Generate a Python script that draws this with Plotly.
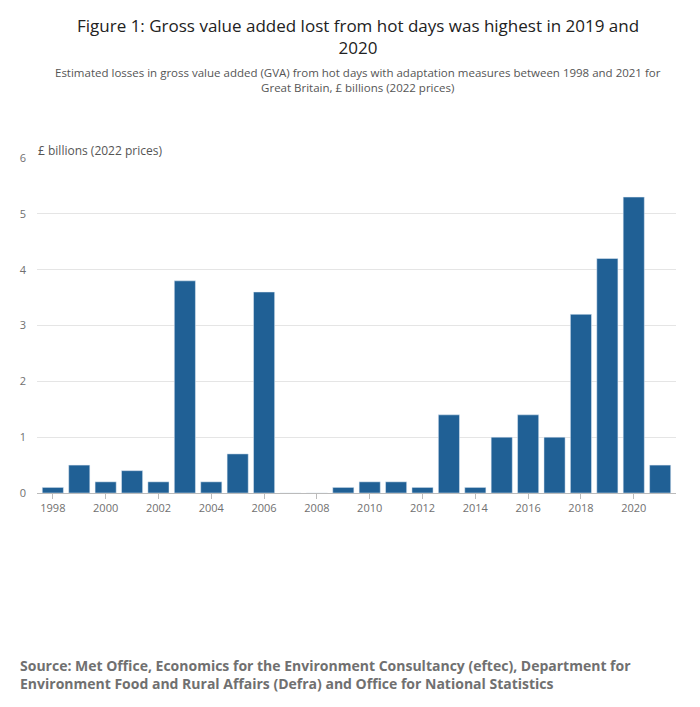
import plotly.graph_objects as go

years = list(range(1998, 2022))
values = [0.1, 0.5, 0.2, 0.4, 0.2, 3.8, 0.2, 0.7, 3.6, 0, 0, 0.1, 0.2, 0.2, 0.1, 1.4, 0.1, 1.0, 1.4, 1.0, 3.2, 4.2, 5.3, 0.5]
tick_years = list(range(1998, 2021, 2))

T, B, L, R = 150, 222, 29, 32
fig = go.Figure(go.Bar(x=years, y=values, marker_color="#206095", width=0.8))
pw = 700 - L - R
ph = 707 - T - B
def py(pix):
    return (707 - B - pix) / ph
def px(pix):
    return (pix - L) / pw

fig.update_layout(
    width=700, height=707, plot_bgcolor="white", paper_bgcolor="white",
    font=dict(family="Open Sans", color="#707070"),
    margin=dict(l=L, r=R, t=T, b=B, autoexpand=False),
    showlegend=False,
    annotations=[
        dict(text="Figure 1: Gross value added lost from hot days was highest in 2019 and<br>2020",
             x=px(350), y=py(28), yanchor="middle", xref="paper", yref="paper", showarrow=False,
             font=dict(size=17, color="#222222")),
        dict(text="Estimated losses in gross value added (GVA) from hot days with adaptation measures between 1998 and 2021 for<br>Great Britain, £ billions (2022 prices)",
             x=px(350), y=py(72), yanchor="middle", xref="paper", yref="paper", showarrow=False,
             font=dict(size=11.5, color="#555555")),
        dict(text="£ billions (2022 prices)", x=px(28), y=py(143), xref="paper", yref="paper",
             xanchor="left", yanchor="middle", showarrow=False, font=dict(size=12, color="#555555")),
        dict(text="<b>Source: Met Office, Economics for the Environment Consultancy (eftec), Department for<br>Environment Food and Rural Affairs (Defra) and Office for National Statistics</b>",
             x=px(10), y=py(666), yanchor="middle", xref="paper", yref="paper", xanchor="left", align="left",
             showarrow=False, font=dict(size=14, color="#707070")),
    ],
)
fig.update_xaxes(tickvals=tick_years, range=[1997.4, 2021.6], ticks="outside", ticklen=5, automargin=False,
                 tickcolor="#bbbbbb", showline=True, linecolor="#bbbbbb", tickfont=dict(size=11))
fig.update_yaxes(range=[0, 6], dtick=1, gridcolor="#e5e5e5", zeroline=False, automargin=False,
                 ticklabelstandoff=10, tickfont=dict(size=11))
fig.write_html("out.html")
